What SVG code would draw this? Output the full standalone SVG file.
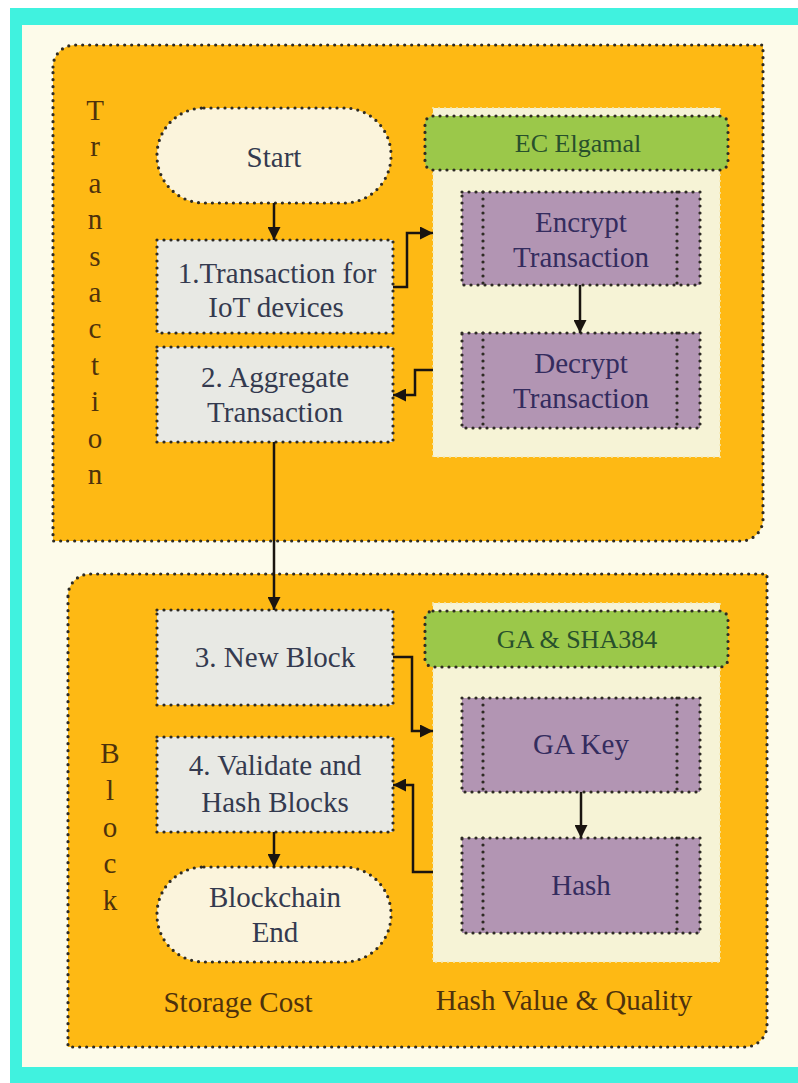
<svg xmlns="http://www.w3.org/2000/svg" width="798" height="1083" viewBox="0 0 798 1083">
<defs>
<style>
text{font-family:"Liberation Serif","Times New Roman","DejaVu Serif",serif;text-anchor:middle}
.dot{stroke:#2e2b24;stroke-width:3.2;stroke-dasharray:0 7;stroke-linecap:round}
.panel{fill:#feb914}
.proc{fill:#e8e9e4}
.term{fill:#fbf4dc}
.inner{fill:#f6f3d6;stroke:#f2e8b4;stroke-width:2;stroke-dasharray:0 6;stroke-linecap:round}
.hdr{fill:#9bc84a}
.alg{fill:#b295b3}
.t-node{font-size:29px;fill:#343a4f}
.t-alg{font-size:29px;fill:#342c5e}
.t-hdr{font-size:26px;fill:#28502c}
.t-lbl{font-size:29px;fill:#4e320c}
.conn{fill:none;stroke:#1a1410;stroke-width:2.5}
</style>
<marker id="ah" viewBox="0 0 10 10" refX="10" refY="5" markerWidth="13" markerHeight="13" markerUnits="userSpaceOnUse" orient="auto">
<path d="M0,0 L10,5 L0,10 z" fill="#1a1410"/>
</marker>
</defs>
<rect x="0" y="0" width="798" height="1083" fill="#ffffff"/>
<rect x="10" y="8" width="788" height="1075" fill="#40f2df"/>
<rect x="22" y="25" width="776" height="1042" fill="#fdfbea"/>

<g id="panel-transaction">
<path class="panel dot" d="M53,67 A22,22 0 0 1 75,45 L763,45 L763,519 A22,22 0 0 1 741,541 L53,541 Z"/>
<text class="t-lbl"><tspan x="95" y="120">T</tspan><tspan x="95" y="156">r</tspan><tspan x="95" y="193">a</tspan><tspan x="95" y="229">n</tspan><tspan x="95" y="266">s</tspan><tspan x="95" y="302">a</tspan><tspan x="95" y="338">c</tspan><tspan x="95" y="375">t</tspan><tspan x="95" y="411">i</tspan><tspan x="95" y="448">o</tspan><tspan x="95" y="484">n</tspan></text>
</g>

<g id="panel-block">
<path class="panel dot" d="M68,596 A22,22 0 0 1 90,574 L767,574 L767,1025 A22,22 0 0 1 745,1047 L68,1047 Z"/>
<text class="t-lbl"><tspan x="110" y="763">B</tspan><tspan x="110" y="800">l</tspan><tspan x="110" y="837">o</tspan><tspan x="110" y="873">c</tspan><tspan x="110" y="910">k</tspan></text>
<text class="t-lbl" x="238" y="1012">Storage Cost</text>
<text class="t-lbl" x="564" y="1010">Hash Value &amp; Quality</text>
</g>

<g id="ec-elgamal">
<rect class="inner" x="433" y="108" width="287" height="349"/>
<rect class="hdr dot" x="425" y="116" width="303" height="54" rx="8"/>
<text class="t-hdr" x="578" y="152">EC Elgamal</text>
</g>

<g id="ga-sha384">
<rect class="inner" x="433" y="603" width="287" height="359"/>
<rect class="hdr dot" x="425" y="611" width="303" height="56" rx="8"/>
<text class="t-hdr" x="577" y="648">GA &amp; SHA384</text>
</g>

<g id="start">
<rect class="term dot" x="157" y="108" width="234" height="95" rx="47"/>
<text class="t-node" x="274" y="167">Start</text>
</g>

<g id="n1">
<rect class="proc dot" x="157" y="240" width="236" height="93"/>
<text class="t-node" x="277" y="283">1.Transaction for</text>
<text class="t-node" x="276" y="317">IoT devices</text>
</g>

<g id="n2">
<rect class="proc dot" x="157" y="347" width="236" height="95"/>
<text class="t-node" x="275" y="387">2. Aggregate</text>
<text class="t-node" x="275" y="422">Transaction</text>
</g>

<g id="encrypt">
<rect class="alg dot" x="462" y="192" width="238" height="93"/>
<path class="dot" d="M483,192 V285 M677,192 V285" fill="none"/>
<text class="t-alg" x="581" y="232">Encrypt</text>
<text class="t-alg" x="581" y="267">Transaction</text>
</g>

<g id="decrypt">
<rect class="alg dot" x="462" y="333" width="238" height="95"/>
<path class="dot" d="M483,333 V428 M677,333 V428" fill="none"/>
<text class="t-alg" x="581" y="373">Decrypt</text>
<text class="t-alg" x="581" y="408">Transaction</text>
</g>

<g id="n3">
<rect class="proc dot" x="157" y="610" width="236" height="95"/>
<text class="t-node" x="275" y="667">3. New Block</text>
</g>

<g id="n4">
<rect class="proc dot" x="157" y="737" width="236" height="95"/>
<text class="t-node" x="275" y="775">4. Validate and</text>
<text class="t-node" x="275" y="812">Hash Blocks</text>
</g>

<g id="end">
<rect class="term dot" x="157" y="867" width="234" height="95" rx="47"/>
<text class="t-node" x="275" y="907">Blockchain</text>
<text class="t-node" x="275" y="942">End</text>
</g>

<g id="gakey">
<rect class="alg dot" x="462" y="698" width="238" height="94"/>
<path class="dot" d="M483,698 V792 M677,698 V792" fill="none"/>
<text class="t-alg" x="581" y="754">GA Key</text>
</g>

<g id="hash">
<rect class="alg dot" x="462" y="838" width="238" height="95"/>
<path class="dot" d="M483,838 V933 M677,838 V933" fill="none"/>
<text class="t-alg" x="581" y="895">Hash</text>
</g>

<g id="connectors">
<path class="conn" d="M274,203 V240" marker-end="url(#ah)"/>
<path class="conn" d="M393,287 H407 V233 H433" marker-end="url(#ah)"/>
<path class="conn" d="M580,285 V333" marker-end="url(#ah)"/>
<path class="conn" d="M433,370 H415 V395 H393" marker-end="url(#ah)"/>
<path class="conn" d="M274,442 V610" marker-end="url(#ah)"/>
<path class="conn" d="M393,657 H412 V731 H433" marker-end="url(#ah)"/>
<path class="conn" d="M581,792 V838" marker-end="url(#ah)"/>
<path class="conn" d="M433,872 H413 V785 H393" marker-end="url(#ah)"/>
<path class="conn" d="M274,832 V867" marker-end="url(#ah)"/>
</g>
</svg>
